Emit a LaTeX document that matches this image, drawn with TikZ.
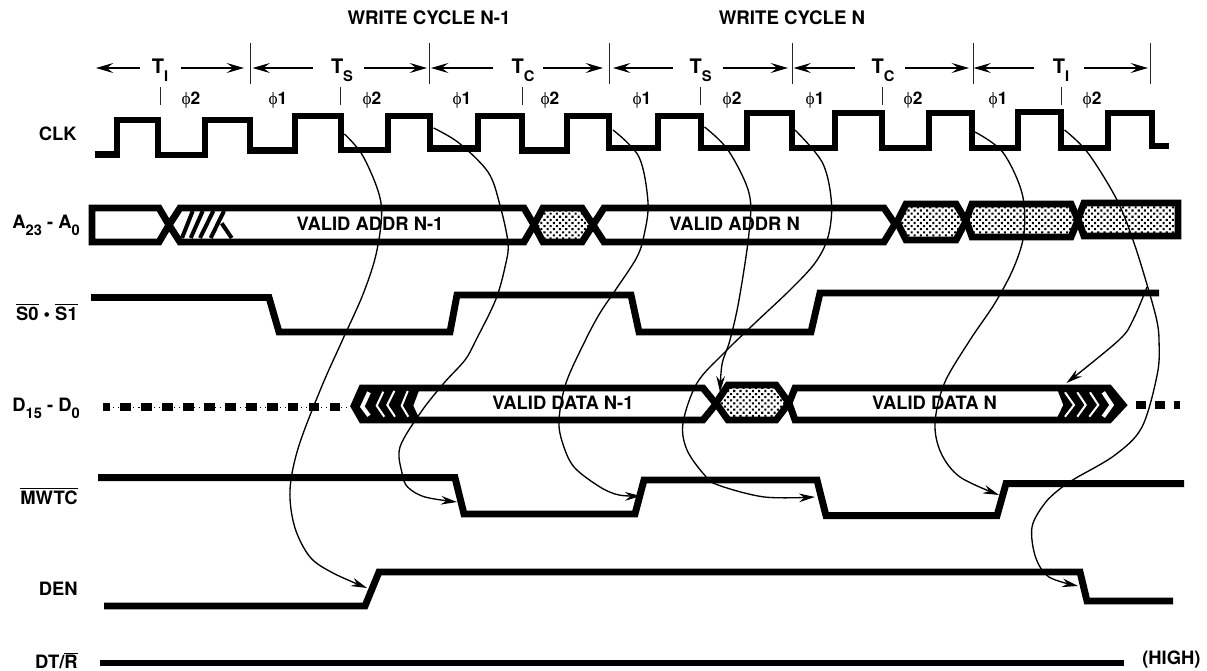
\documentclass[tikz,border=0pt]{standalone}
\usepackage{fontspec}
\setmainfont{TeX Gyre Heros}
\newfontfamily\phifont{Liberation Serif}
\usetikzlibrary{arrows.meta,patterns.meta}
\newcommand{\sbs}[1]{\raisebox{-0.38em}{\fontsize{11}{11}\selectfont #1}}
\newcommand{\phs}[1]{{\phifont\mdseries ϕ}#1}
\newcommand{\ovl}[1]{$\overline{\mbox{#1}}$}
\tikzset{
  sig/.style={line width=5.2pt,line cap=butt,line join=miter,miter limit=4},
  bus/.style={sig,fill=white},
  stip/.style={sig,preaction={fill=white},pattern={Dots[radius=1.1pt,distance=3.3pt,angle=45]}},
  lab/.style={font=\bfseries\fontsize{13.8}{15}\selectfont,inner sep=0,text=black},
  phlab/.style={lab,font=\bfseries\fontsize{13}{14}\selectfont},
  head/.style={lab,font=\bfseries\fontsize{14}{15}\selectfont},
  tlab/.style={lab,font=\bfseries\fontsize{15}{16}\selectfont},
  tick/.style={line width=0.6pt,black!85},
  tarr/.style={line width=0.85pt,-{Stealth[length=13pt,width=7.5pt,inset=5pt]}},
  curve/.style={line width=1pt,-{Stealth[length=12pt,width=6.5pt,inset=4pt]}},
  hatch/.style={line width=3pt},
  wchev/.style={white,line width=1.5pt,line join=miter},
  wchevb/.style={white,line width=3pt,line join=miter},
  dots/.style={line width=6pt,dash pattern=on 7.9pt off 7.8pt,dash phase=2.6pt},
  dotsr/.style={line width=6pt,dash pattern=on 7.5pt off 6.7pt},
  thind/.style={line width=0.5pt,dash pattern=on 0.8pt off 3pt}
}
\begin{document}
\begin{tikzpicture}[x=0.75pt,y=-0.75pt]
\useasboundingbox (0,0) rectangle (1207,671);
% headers
\node[head] (hn1) at (429,18) {WRITE CYCLE N-1};
\node[head] (hn) at (792,18) {WRITE CYCLE N};
% long ticks
\foreach \n/\x in {l1/250,l2/429.5,l3/609,l4/792,l5/973,l6/1150.5}{
  \draw[tick] (\x,43) -- (\x,84);
}
\foreach \n/\x in {s1/160,s2/340,s3/522,s4/700.6,s5/882,s6/1061}{
  \draw[tick] (\x,87) -- (\x,105);
}
% T labels with arrows
\foreach \n/\x/\s/\ax/\bx/\cx/\dx in {
  a/160/I/140/96/181/244,
  b/342/S/313/252.6/363.5/427,
  c/523/C/492.5/431/543/603,
  d/700.6/S/673/613/723/788,
  e/883/C/855/793.6/905/969,
  f/1061/I/1033.6/973.6/1084/1148}{
  \node[tlab] (t\n) at (\x,70) {T\sbs{\s}};
  \coordinate (t\n l0) at (\ax,68);
  \coordinate (t\n l1) at (\bx,68);
  \coordinate (t\n r0) at (\cx,68);
  \coordinate (t\n r1) at (\dx,68);
  \draw[tarr] (t\n l0) -- (t\n l1);
  \draw[tarr] (t\n r0) -- (t\n r1);
}
% phases
\foreach \i/\x/\p in {1/191/2,2/278/1,3/372/2,4/462/1,5/550/2,6/642/1,7/732/2,8/815/1,9/913/2,10/998/1,11/1092/2}{
  \node[phlab] (ph\i) at (\x,100) {\phs{\p}};
}
% signal labels
\node[lab,anchor=east] (lclk) at (77,134) {CLK};
\node[lab,anchor=east] (laddr) at (80,225) {A\sbs{23} - A\sbs{0}};
\node[lab,anchor=east] (ls) at (78,312) {\ovl{S0} • \ovl{S1}};
\node[lab,anchor=east] (ld) at (80,408) {D\sbs{15} - D\sbs{0}};
\node[lab,anchor=east] (lm) at (78,496) {\ovl{MWTC}};
\node[lab,anchor=east] (lden) at (78,589) {DEN};
\node[lab,anchor=base east] (ldt) at (78,668.5) {DT/\ovl{R}};
\node[lab,anchor=west] (lhigh) at (1142,660) {(HIGH)};
% CLK
\draw[sig] (95,154.5) -- (117,154.5) -- (117,120) -- (158,120) -- (158,155) -- (205,155) -- (205,120)
 -- (250,120) -- (250,150.5) -- (295,150.5) -- (295,116) -- (341,116) -- (341,150) -- (388,150)
 -- (388,116) -- (430,116) -- (430,148.5) -- (478,148.5) -- (478,116) -- (522,116) -- (522,150.5)
 -- (567,150.5) -- (567,116) -- (609,116) -- (609,148) -- (658,148) -- (658,116) -- (701,116)
 -- (701,148) -- (747,148) -- (747,113) -- (792,113) -- (792,148) -- (835,148) -- (835,113)
 -- (882,113) -- (882,148) -- (929,148) -- (929,113) -- (972,113) -- (972,148) -- (1018,148)
 -- (1018,112) -- (1061,112) -- (1061,148) -- (1108,148) -- (1108,113) -- (1152,113) -- (1152,146) -- (1169,146);
% address bus
\draw[bus] (92,208) -- (159,208) -- (169,225) -- (159,242) -- (92,242) -- cycle;
\draw[bus] (169,225) -- (180,208) -- (524,208) -- (534,225) -- (524,242) -- (180,242) -- cycle;
\draw[hatch] (192.7,211) -- (182,238) (202.7,211) -- (190.7,238) (213.3,211) -- (200,238) (224,211) -- (210.7,238) (221.7,223.3) -- (231.7,238);
\draw[stip] (534,225) -- (543,208) -- (582,208) -- (593,225) -- (582,242) -- (543,242) -- cycle;
\draw[bus] (593,225) -- (604,208) -- (884,208) -- (895,224) -- (884,242) -- (604,242) -- cycle;
\draw[stip] (897,222) -- (906,204) -- (956,204) -- (966,221) -- (956,240) -- (906,240) -- cycle;
\draw[stip] (966,220) -- (972,204) -- (1071,204) -- (1078,220) -- (1071,237) -- (972,237) -- cycle;
\draw[stip] (1078,219) -- (1084,203) -- (1178,203) -- (1178,236) -- (1084,236) -- cycle;
\node[lab] (va1) at (370,224) {VALID ADDR N-1};
\node[lab] (va2) at (734.6,224) {VALID ADDR N};
% status
\draw[sig] (91,297.5) -- (269,297.5) -- (279,332) -- (450,332) -- (457,295) -- (631,295) -- (639,332) -- (811,332) -- (820,293) -- (1159,293);
% data bus
\draw[dots] (103,407) -- (350,407);
\draw[thind] (103,407) -- (350,407);
\draw[dotsr] (1136,405) -- (1180,405);
\draw[bus] (354,406) -- (362,388) -- (703,388) -- (716,404) -- (703,420) -- (362,420) -- cycle;
\fill[black] (354,406) -- (362,388) -- (420,388) -- (413.3,405.7) -- (420,420) -- (362,420) -- cycle;
\draw[wchevb] (369,392.3) -- (362.3,406.7) -- (369,415.7);
\draw[wchev] (383.3,391.7) -- (376.7,405.7) -- (384.3,416.7);
\draw[wchev] (394.3,391) -- (387.3,405) -- (395,416.7);
\draw[wchev] (407.7,391) -- (401.7,405.7) -- (408.3,416.7);
\draw[stip] (716,403) -- (728,385) -- (776,385) -- (789,403) -- (776,420) -- (728,420) -- cycle;
\draw[bus] (789,403) -- (795,388) -- (1109,388) -- (1123,405) -- (1109,420) -- (795,420) -- cycle;
\fill[black] (1056.7,388) -- (1063.3,405) -- (1056,420) -- (1109,420) -- (1123,405) -- (1109,388) -- cycle;
\draw[wchev] (1065,392.3) -- (1074,405) -- (1065,416.7);
\draw[wchev] (1077.3,392.3) -- (1085.7,405) -- (1077.3,416.7);
\draw[wchev] (1090,392.3) -- (1098.3,405) -- (1089.3,416.7);
\draw[wchevb] (1103.3,392.3) -- (1111.7,405) -- (1103.3,416.7);
\node[lab] (vd1) at (563,403) {VALID DATA N-1};
\node[lab] (vd2) at (934.5,403) {VALID DATA N};
% MWTC
\draw[sig] (98,477.7) -- (455,477.7) -- (464,514) -- (635,514) -- (644,480) -- (817,480) -- (826,515.7) -- (997,515.7) -- (1006,483.7) -- (1184,483.7);
% DEN
\draw[sig] (104,606) -- (365,606) -- (379,572) -- (1080,572) -- (1087,601) -- (1173,601);
% DT/R
\draw[sig] (99.5,663) -- (1124,663);
% timing curves
\coordinate (c1s) at (344.4,134); \coordinate (c1e) at (367,588);
\coordinate (c2s) at (433.6,128); \coordinate (c2e) at (457,502);
\coordinate (c3s) at (613,130);   \coordinate (c3e) at (641,496);
\coordinate (c4s) at (704.5,127); \coordinate (c4e) at (720,392);
\coordinate (c5s) at (795,130);   \coordinate (c5e) at (815,497);
\coordinate (c6s) at (975,132);   \coordinate (c6e) at (999,495);
\coordinate (c7s) at (1064.6,130);\coordinate (c7e) at (1078,586);
\coordinate (c8s) at (1147,287);  \coordinate (c8e) at (1066.5,383);
\draw[curve] plot[smooth,tension=0.55] coordinates {(c1s) (363.5,157) (381,203) (377,250) (363.5,293) (342.5,340) (321.5,387) (298.5,447) (290,490) (294.7,527) (310,557) (333,573) (c1e)};
\draw[curve] plot[smooth,tension=0.55] coordinates {(c2s) (459,143) (488,172) (499.4,203) (508,243) (505,267) (495.6,300) (476,340) (465,360) (444,383) (421,412) (400,447) (402,473) (407.6,487) (425,497) (c2e)};
\draw[curve] plot[smooth,tension=0.55] coordinates {(c3s) (639,157) (648,202) (644.5,233) (637,257) (615.5,290) (600,313) (585.5,340) (566,383) (559,420) (562.6,443) (574,467) (600,487) (619,495) (c3e)};
\draw[curve] plot[smooth,tension=0.55] coordinates {(c4s) (728,150) (749,193) (749,233) (739,300) (730,340) (723,360) (721,373) (c4e)};
\draw[curve] plot[smooth,tension=0.55] coordinates {(c5s) (822.6,163) (831.5,203) (828,237) (815,263) (790,290) (755,323) (724,353) (697,383) (683,423) (687,450) (704.5,475) (718,485) (764.5,497) (c5e)};
\draw[curve] plot[smooth,tension=0.55] coordinates {(c6s) (1002.6,152) (1022,193) (1024,233) (1014,267) (995,303) (970,340) (944.5,383) (935,423) (941,453) (960,477) (c6e)};
\draw[curve] plot[smooth,tension=0.55] coordinates {(c7s) (1088,153) (1117,200) (1134,243) (1148,288) (1156.7,320) (1159,340) (1157.5,373) (1142,427) (1115,455) (1076,478) (1061,488) (1045,503) (1032,527) (1035.5,557) (1049,577) (c7e)};
\draw[curve] plot[smooth,tension=0.55] coordinates {(c8s) (1133,320) (1119,340) (c8e)};
\end{tikzpicture}
\end{document}
